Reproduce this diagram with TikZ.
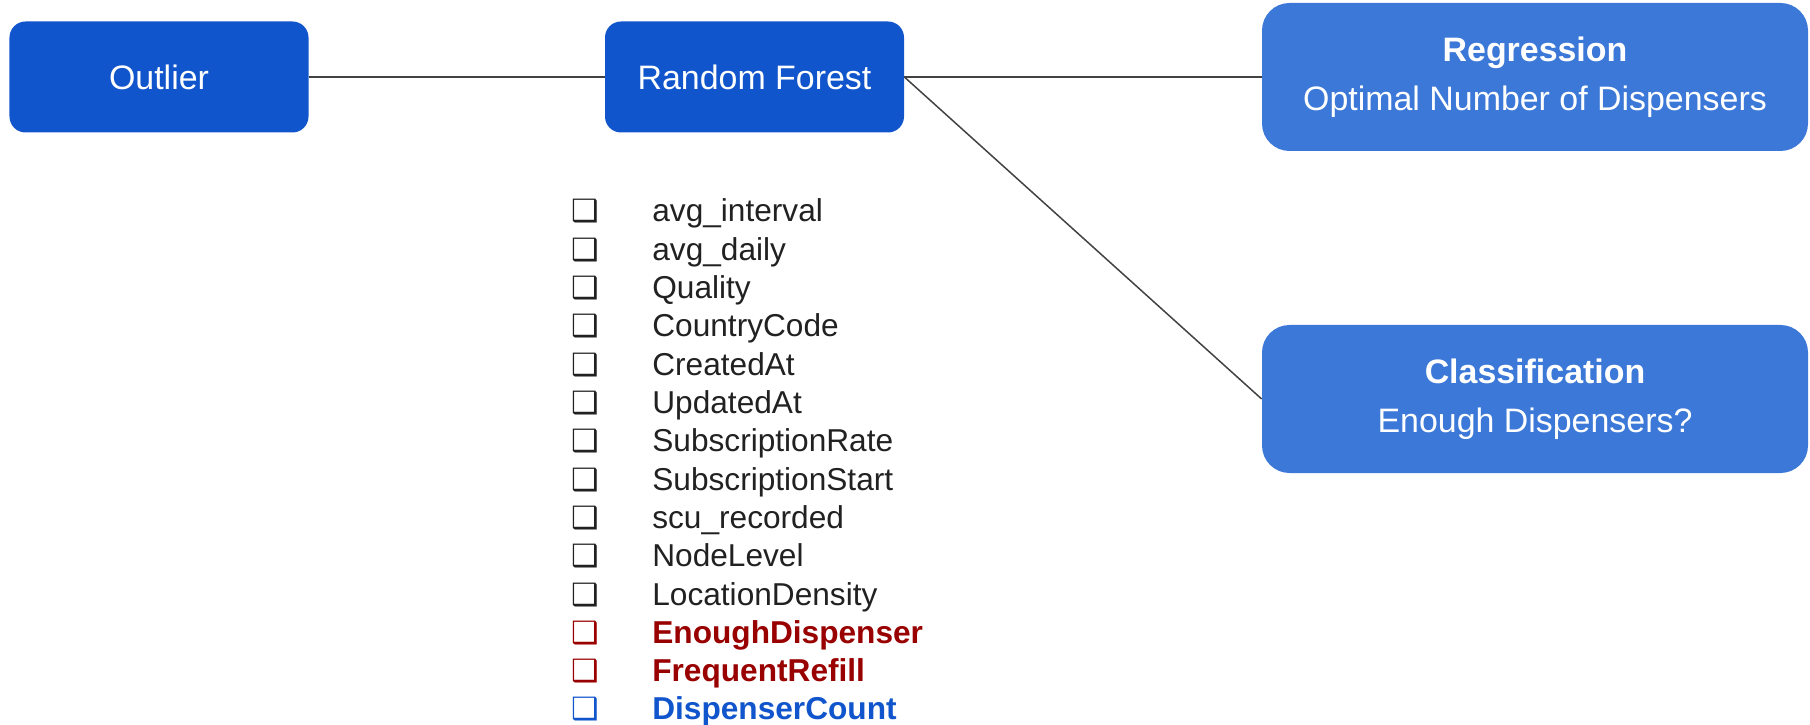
\documentclass[tikz,border=0pt]{standalone}
\usepackage{fontspec}
\setmainfont{Liberation Sans}
\newfontfamily\symfont{DejaVu Sans}
\usetikzlibrary{positioning}
\definecolor{GS_Blue}{HTML}{1155CC}
\definecolor{GS_LightBlue}{HTML}{3C78D8}
\definecolor{GS_Red}{HTML}{990000}
\definecolor{GS_Text}{HTML}{212121}
\definecolor{GS_Line}{HTML}{424242}

\tikzset{
  model/.style={fill=GS_Blue, text=white, rounded corners=0.32cm,
    minimum width=5.98cm, minimum height=2.22cm, font=\fontsize{19.3}{23}\selectfont},
  task/.style={fill=GS_LightBlue, text=white, rounded corners=0.55cm, align=center,
    minimum width=10.92cm, minimum height=2.96cm, font=\fontsize{19.3}{27.8}\selectfont},
  link/.style={draw=GS_Line, line width=0.85pt},
  feat/.style={anchor=base west, inner sep=0pt, font=\fontsize{18}{20}\selectfont},
  tickbox/.style={anchor=base east, inner sep=0pt, font=\symfont\fontsize{17.5}{20}\selectfont},
}

\begin{document}
\begin{tikzpicture}
\useasboundingbox (0,0) rectangle (36.2,-14.5);
% --- Models ---
\node[model] (outlier) at (3.18,-1.54) {Outlier};
\node[model] (forest) at (15.09,-1.54) {Random Forest};
% --- Tasks ---
\node[task] (regress) at (30.7,-1.54) {\textbf{Regression}\\Optimal Number of Dispensers};
\node[task] (classif) at (30.7,-7.98) {\textbf{Classification}\\Enough Dispensers?};
% Links
\draw[link] (outlier) -- (forest);
\draw[link] (forest) -- (regress);
\draw[link] (forest.east) -- (classif.west);
% --- Feature list ---
\foreach \name/\col/\wt [count=\i] in {
  avg\_interval/GS_Text/\mdseries, avg\_daily/GS_Text/\mdseries,
  Quality/GS_Text/\mdseries, CountryCode/GS_Text/\mdseries,
  CreatedAt/GS_Text/\mdseries, UpdatedAt/GS_Text/\mdseries,
  SubscriptionRate/GS_Text/\mdseries, SubscriptionStart/GS_Text/\mdseries,
  scu\_recorded/GS_Text/\mdseries, NodeLevel/GS_Text/\mdseries,
  LocationDensity/GS_Text/\mdseries, EnoughDispenser/GS_Red/\bfseries,
  FrequentRefill/GS_Red/\bfseries, DispenserCount/GS_Blue/\bfseries} {
  \node[feat, text=\col] (feat-\i) at (13.04,{-4.44-0.766*(\i-1)}) {\wt\name};
  \node[tickbox, text=\col] (box-\i) at ([xshift=-1.05cm]feat-\i.base west) {❑};
}
\end{tikzpicture}
\end{document}
